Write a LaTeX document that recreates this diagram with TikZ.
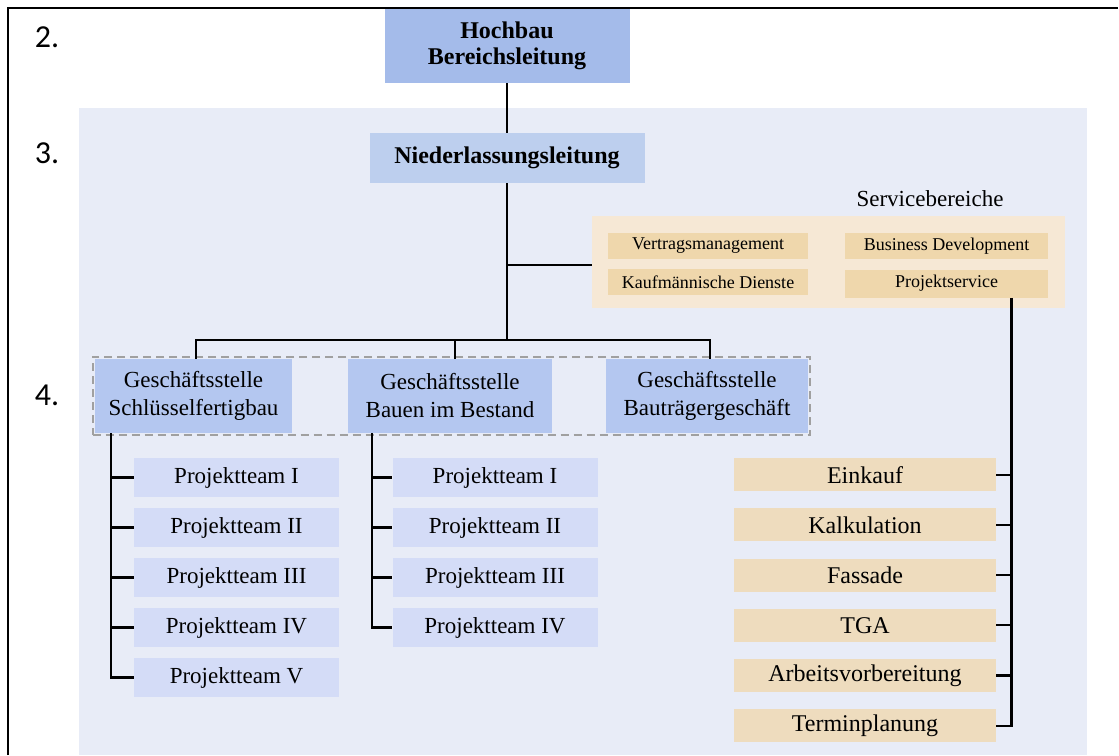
\documentclass[tikz,border=0pt]{standalone}
\usepackage{fontspec}
\setmainfont{Liberation Serif}
\newfontfamily\numfont{Carlito}
\usetikzlibrary{fit,calc}

\definecolor{hbblau}{HTML}{A4BBEA}
\definecolor{nlblau}{HTML}{BDCFEE}
\definecolor{gsblau}{HTML}{B4C7F0}
\definecolor{teamblau}{HTML}{D4DCF7}
\definecolor{bgblau}{HTML}{E8ECF7}
\definecolor{svchell}{HTML}{F6E8D5}
\definecolor{svcdunkel}{HTML}{EFD7AC}
\definecolor{fachbeige}{HTML}{EEDCBE}
\definecolor{rahmengrau}{HTML}{A0A0A0}

\tikzset{
	box/.style={rectangle, inner sep=0pt, align=center, text=black},
	leitung/.style={box, font=\bfseries\fontsize{12}{13}\selectfont},
	gsbox/.style={box, fill=gsblau, minimum height=37pt, font=\fontsize{11.5}{14}\selectfont},
	team/.style={box, fill=teamblau, minimum width=102.5pt, minimum height=19.5pt, font=\fontsize{11.5}{13}\selectfont},
	svcbox/.style={box, fill=svcdunkel, minimum height=13pt, font=\fontsize{9}{10}\selectfont},
	fach/.style={box, fill=fachbeige, minimum width=131pt, minimum height=16.5pt, font=\fontsize{12}{13}\selectfont},
	nummer/.style={box, font=\numfont\fontsize{16}{16}\selectfont},
	linie/.style={line width=1.1pt, black},
	gsrahmen/.style={draw=rahmengrau, line width=1pt, dash pattern=on 4pt off 2.5pt, inner sep=1pt}
}

\begin{document}
\begin{tikzpicture}[x=0.5pt,y=-0.5pt]
		\useasboundingbox (0,0) rectangle (1119,755);
		
		% Hintergrund Niederlassung
		\fill[bgblau] (79,108) rectangle (1087,755);
		
		% Ebenen
		\node[nummer] (n2) at (47,37) {2.};
		\node[nummer] (n3) at (47,153) {3.};
		\node[nummer] (n4) at (47,395) {4.};
		
		% Leitung
		\node[leitung, fill=hbblau, minimum width=122.5pt, minimum height=37pt] (hochbau) at (507,46) {Hochbau\\Bereichsleitung};
		\node[leitung, fill=nlblau, minimum width=137.5pt, minimum height=25pt] (nl) at (507,158) {Niederlassungsleitung};
		
		% Servicebereiche
		\node[box, fill=svchell, minimum width=236.5pt, minimum height=46pt] (svc) at (828.5,262) {};
		\node[box, font=\fontsize{11.5}{13}\selectfont] (svctitel) at (930,199) {Servicebereiche};
		\node[svcbox, minimum width=100pt] (vm) at (708,246) {Vertragsmanagement};
		\node[svcbox, minimum width=100pt] (kd) at (708,282) {Kaufmännische Dienste};
		\node[svcbox, minimum width=101.5pt] (bd) at (946.5,246) {Business Development};
		\node[svcbox, minimum width=101.5pt, minimum height=14pt] (ps) at (946.5,283.5) {Projektservice};
		
		% Geschäftsstellen
		\node[gsbox, minimum width=98.5pt] (gs1) at (193.5,396) {Geschäftsstelle\\Schlüsselfertigbau};
		\node[gsbox, minimum width=102pt] (gs2) at (450,396) {Geschäftsstelle\\Bauen im Bestand};
		\node[gsbox, minimum width=101pt] (gs3) at (707,396) {Geschäftsstelle\\Bauträgergeschäft};
		\node[gsrahmen, fit=(gs1)(gs3)] (gsgruppe) {};
		
		% Projektteams
		\foreach \n [count=\i] in {I,II,III,IV,V} {
			\node[team] (a\i) at (236.5,427.5+50*\i) {Projektteam \n};
		}
		\foreach \n [count=\i] in {I,II,III,IV} {
			\node[team] (b\i) at (495,427.5+50*\i) {Projektteam \n};
		}
		
		% Fachabteilungen
		\foreach \t [count=\i] in {Einkauf,Kalkulation,Fassade,TGA,Arbeitsvorbereitung,Terminplanung} {
			\node[fach] (r\i) at (865,424.5+50.2*\i) {\t};
		}
		
		% Verbindungen
		\coordinate (verteiler) at (507,340);
		\draw[linie] (hochbau) -- (nl);
		\draw[linie] (nl) -- (verteiler);
		\draw[linie] (nl.south |- 0,265) -- (svc.west |- 0,265);
		\draw[linie] ([xshift=1.25pt]gs1.north) |- ([xshift=1.5pt]gs3.north |- verteiler) -- ([xshift=1.5pt]gs3.north);
		\draw[linie] ([xshift=2.5pt]gs2.north) -- ([xshift=2.5pt]gs2.north |- verteiler);
		
		\coordinate (lst) at ($(gs1.south west)+(16,0)$);
		\draw[linie] (lst) |- (a5.west);
		\foreach \i in {1,...,4} {
			\draw[linie] (lst |- a\i.west) -- (a\i.west);
		}
		\coordinate (mst) at ($(gs2.south west)+(24,0)$);
		\draw[linie] (mst) |- (b4.west);
		\foreach \i in {1,...,3} {
			\draw[linie] (mst |- b\i.west) -- (b\i.west);
		}
		\coordinate (rst) at ($(ps.south)+(65,0)$);
		\draw[linie] (rst) |- (r6.east);
		\foreach \i in {1,...,5} {
			\draw[linie] (rst |- r\i.east) -- (r\i.east);
		}
		
		% Rahmen
		\draw[line width=1pt] (8,755) -- (8,8) -- (1118,8);
	\end{tikzpicture}
\end{document}
